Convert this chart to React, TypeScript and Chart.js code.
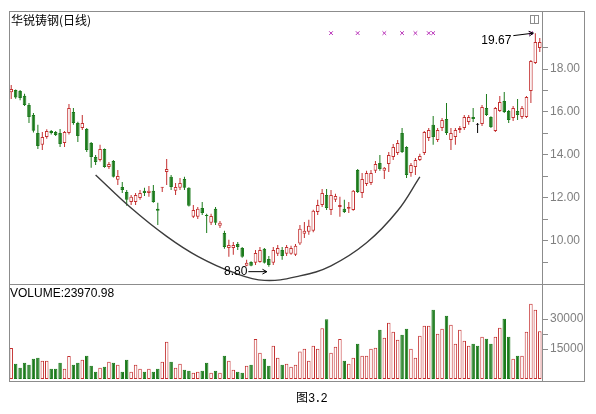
import React, { useEffect, useRef } from 'react';
import { Chart, registerables } from 'chart.js';

Chart.register(...registerables);

// ---- data ----
const opens = [
  16.92, 17.02, 16.98, 16.76, 16.33, 15.86, 15.02, 14.47, 14.84, 15.12,
  15.07, 15.02, 14.56, 15.02, 16.0, 15.49, 15.26, 15.21, 14.56, 13.91,
  13.77, 14.28, 13.44, 13.72, 12.84, 12.51, 12.28, 11.81, 11.81, 12.0,
  12.33, 12.23, 12.33, 11.49, 12.47, 13.21, 12.98, 12.33, 12.47, 12.88,
  12.47, 11.12, 11.12, 11.53, 11.21, 10.84, 11.49, 10.7, 10.37, 9.67,
  9.67, 9.86, 9.67, 8.84, 9.02, 8.98, 9.02, 9.63, 9.16, 8.98,
  9.4, 9.58, 9.4, 9.4, 9.35, 9.88, 10.33, 10.42, 10.47, 11.35,
  11.67, 12.14, 11.44, 11.91, 11.58, 11.49, 11.49, 11.44, 13.3, 12.23,
  12.65, 12.7, 13.26, 13.63, 13.26, 13.58, 13.91, 14.09, 15.02, 14.37,
  13.16, 13.44, 13.77, 14.09, 14.79, 15.4, 14.7, 15.26, 15.67, 14.7,
  14.84, 15.16, 15.26, 15.53, 15.77, 15.4, 15.44, 16.19, 15.77, 15.12,
  16.05, 16.51, 16.05, 15.72, 16.05, 15.77, 15.77, 16.98, 18.28, 18.98,
];
const highs = [
  17.26, 17.05, 17.02, 16.85, 16.42, 15.95, 15.4, 15.07, 15.2, 15.16,
  15.12, 15.21, 15.12, 16.37, 16.19, 15.55, 15.86, 15.26, 14.6, 14.0,
  14.47, 14.3, 13.67, 13.77, 13.3, 12.74, 12.37, 12.14, 12.23, 12.37,
  12.47, 12.56, 12.6, 11.77, 12.51, 13.81, 13.07, 12.7, 12.93, 12.98,
  12.5, 11.67, 11.58, 11.81, 11.26, 11.26, 11.58, 10.93, 10.47, 10.05,
  9.95, 9.95, 9.72, 9.12, 9.05, 9.58, 9.72, 9.67, 9.3, 9.72,
  9.81, 9.72, 9.81, 9.77, 9.86, 10.74, 10.88, 10.98, 11.45, 11.91,
  12.42, 12.42, 12.37, 12.19, 12.05, 11.91, 11.81, 12.37, 13.35, 13.16,
  13.26, 13.3, 13.72, 14.0, 13.44, 14.14, 14.51, 14.7, 15.26, 14.4,
  13.63, 13.86, 14.05, 15.12, 15.26, 15.81, 15.26, 15.72, 16.42, 15.26,
  15.26, 15.35, 15.86, 15.86, 16.19, 15.49, 16.33, 16.84, 15.8, 16.23,
  16.74, 16.93, 16.09, 16.28, 16.6, 16.28, 16.74, 18.42, 19.67, 19.44,
];
const lows = [
  16.6, 16.62, 16.55, 16.28, 15.49, 15.05, 14.28, 14.23, 14.75, 14.95,
  14.88, 14.37, 14.37, 14.95, 15.4, 14.6, 15.16, 14.14, 13.4, 13.53,
  13.7, 13.4, 13.35, 12.95, 12.6, 12.23, 11.63, 11.67, 11.67, 11.91,
  12.09, 12.05, 11.77, 10.74, 12.28, 12.6, 12.37, 12.14, 12.37, 12.37,
  11.6, 11.07, 11.02, 11.21, 10.37, 10.74, 10.74, 10.6, 9.63, 9.26,
  9.35, 9.58, 9.21, 8.82, 8.82, 8.88, 8.98, 8.95, 8.8, 8.88,
  9.3, 9.12, 9.3, 9.35, 9.3, 9.81, 10.14, 10.28, 10.4, 11.21,
  11.58, 11.44, 11.21, 11.81, 11.12, 11.3, 11.3, 11.4, 12.23, 12.0,
  12.56, 12.6, 13.16, 13.26, 12.88, 13.21, 13.77, 14.0, 14.09, 12.93,
  12.98, 13.07, 13.72, 14.0, 14.65, 14.47, 14.6, 15.12, 14.93, 14.23,
  14.47, 15.02, 15.16, 15.4, 15.53, 15.02, 15.35, 15.81, 15.26, 15.07,
  16.0, 15.95, 15.49, 15.58, 15.63, 15.67, 15.72, 16.42, 18.23, 18.79,
];
const closes = [
  17.07, 16.67, 16.65, 16.33, 15.77, 15.13, 14.42, 14.84, 15.12, 15.02,
  14.93, 14.51, 15.07, 16.19, 15.49, 14.88, 15.49, 14.23, 13.91, 13.67,
  14.28, 13.44, 13.58, 12.98, 13.02, 12.37, 11.91, 12.05, 12.14, 12.23,
  12.23, 12.33, 11.81, 11.4, 12.51, 13.35, 12.51, 12.51, 12.7, 12.47,
  11.63, 11.44, 11.49, 11.3, 11.16, 11.16, 10.84, 10.84, 9.72, 9.81,
  9.81, 9.72, 9.26, 8.98, 8.84, 9.44, 9.58, 8.98, 8.88, 9.58,
  9.67, 9.3, 9.72, 9.67, 9.77, 10.56, 10.47, 10.7, 11.4, 11.67,
  12.23, 11.53, 12.14, 12.09, 11.67, 11.35, 11.58, 12.33, 12.28, 12.88,
  13.16, 13.16, 13.58, 13.35, 13.4, 14.0, 14.37, 14.56, 14.14, 13.07,
  13.53, 13.77, 13.95, 15.07, 15.16, 14.84, 15.16, 15.63, 15.02, 15.02,
  15.16, 15.26, 15.77, 15.77, 15.67, 15.4, 16.23, 15.86, 15.3, 16.19,
  16.47, 16.0, 15.63, 16.19, 15.86, 16.19, 16.7, 18.37, 19.26, 19.26,
];
const volumes = [
  15500, 7700, 5700, 8200, 7200, 10200, 10700, 9200, 9200, 5200,
  5200, 8200, 5200, 11500, 7200, 8200, 9700, 11700, 6700, 3700,
  5700, 6200, 8700, 8200, 7200, 3700, 9700, 3700, 7200, 5200,
  3700, 5200, 3700, 5200, 8700, 18700, 8700, 5700, 7700, 4700,
  4200, 3200, 3700, 4200, 8200, 3200, 4200, 3200, 11700, 9200,
  4700, 3700, 3200, 6700, 7200, 20000, 13200, 10200, 6700, 16700,
  10700, 7200, 7700, 6200, 7200, 13800, 15200, 9200, 16700, 15200,
  25500, 30000, 13200, 16200, 20000, 9200, 7700, 10700, 17700, 11700,
  11700, 15200, 15700, 24700, 20700, 28200, 23700, 19700, 22200, 25200,
  15200, 10700, 21700, 26700, 26700, 34700, 22700, 25200, 31700, 27200,
  17700, 24700, 19200, 16700, 17700, 16700, 21200, 20200, 17700, 21200,
  25700, 30200, 21200, 10200, 11700, 11700, 23700, 37700, 34700, 23970.98,
];
const days = opens.map((_, i) => String(i + 1));

const priceTicks = [9, 10, 11, 12, 13, 14, 15, 16, 17, 18, 19];
const priceLabelled = [10, 12, 14, 16, 18];
const volTicks = [15000, 22500, 30000];
const volLabelled = [15000, 30000];

const signalDays = [72, 78, 84, 88, 91, 94, 95, 117];
const signalLevel = 19.67;

// rounded-bottom curve drawn over the chart (day index, price)
const arcDays = [19, 27, 35, 42, 50, 57, 65, 72, 80, 87, 92];
const arcPrices = [13.07, 11.53, 10.21, 9.28, 8.53, 8.16, 8.37, 8.84, 9.91, 11.4, 12.98];

const titleText = '华锐铸钢(日线)';
const volumeLabel = 'VOLUME:23970.98';

// ---- styles ----
const RED = '#c43030';
const GREEN = '#1b7a1b';
const FRAME = '#8c8c8c';
const LABEL = '#7f7f7f';

const candleColor = (i: number) =>
  closes[i] > opens[i] ? RED : closes[i] < opens[i] ? GREEN : '#000000';
const bodyFill = (i: number) => (closes[i] > opens[i] ? '#ffffff' : candleColor(i));
const volColor = (i: number) => (closes[i] > opens[i] ? RED : GREEN);

function arrow(ctx: CanvasRenderingContext2D, x1: number, y1: number, x2: number, y2: number) {
  ctx.beginPath();
  ctx.moveTo(x1, y1);
  ctx.lineTo(x2, y2);
  ctx.stroke();
  const a = Math.atan2(y2 - y1, x2 - x1);
  const h = 5;
  ctx.beginPath();
  ctx.moveTo(x2 - h * Math.cos(a - 0.5), y2 - h * Math.sin(a - 0.5));
  ctx.lineTo(x2, y2);
  ctx.lineTo(x2 - h * Math.cos(a + 0.5), y2 - h * Math.sin(a + 0.5));
  ctx.stroke();
}

const framePlugin = {
  id: 'frame',
  afterDraw(chart: any) {
    const { ctx, chartArea } = chart;
    const ys = chart.scales.y;
    const yv = chart.scales.yVol;
    const xs = chart.scales.x;
    const L = Math.round(chartArea.left) + 0.5;
    const R = Math.round(ys.right) - 0.5;
    const T = Math.round(chartArea.top) + 0.5;
    const B = Math.round(chartArea.bottom) + 0.5;
    const M = Math.round(yv.top) + 0.5;
    const A = Math.round(chartArea.right) + 0.5;
    ctx.save();
    ctx.strokeStyle = FRAME;
    ctx.lineWidth = 1;
    ctx.strokeRect(L, T, R - L, B - T);
    ctx.beginPath();
    ctx.moveTo(L, M);
    ctx.lineTo(R, M);
    ctx.moveTo(A, T);
    ctx.lineTo(A, B);
    ctx.stroke();
    // small panel icon
    ctx.strokeRect(A - 12, T + 4, 8, 8);
    ctx.beginPath();
    ctx.moveTo(A - 8, T + 4);
    ctx.lineTo(A - 8, T + 12);
    ctx.stroke();

    ctx.fillStyle = '#000';
    ctx.textBaseline = 'alphabetic';
    ctx.font = '12px "Noto Sans CJK SC"';
    ctx.textAlign = 'left';
    ctx.fillText(titleText, chartArea.left + 2, chartArea.top + 14);
    ctx.font = '12px "Liberation Sans"';
    ctx.fillText(volumeLabel, chartArea.left + 1, yv.top + 13);

    // highest / lowest markers
    let hi = 0;
    let lo = 0;
    highs.forEach((v, i) => { if (v > highs[hi]) hi = i; });
    lows.forEach((v, i) => { if (v < lows[lo]) lo = i; });
    ctx.strokeStyle = '#000';
    ctx.lineWidth = 1;
    const hx = xs.getPixelForValue(hi) - 2;
    const hy = ys.getPixelForValue(highs[hi]);
    arrow(ctx, hx - 20, hy + 2.5, hx, hy);
    ctx.textAlign = 'right';
    ctx.fillText(highs[hi].toFixed(2), hx - 22, hy + 10.5);
    const lx = xs.getPixelForValue(lo) - 2;
    const ly = ys.getPixelForValue(lows[lo]) + 5;
    arrow(ctx, lx - 18.5, ly, lx, ly);
    ctx.fillText(lows[lo].toFixed(2), lx - 19.5, ly + 3);
    ctx.restore();
  },
};

export default function App() {
  const ref = useRef<HTMLCanvasElement>(null);

  useEffect(() => {
    if (!ref.current) return;
    const fixedWidth = (s: any) => { s.width = 43; };
    const chart = new Chart(ref.current, {
      type: 'bar',
      data: {
        labels: days,
        datasets: [
          {
            type: 'line',
            label: 'signals',
            data: days.map((_, i) => (signalDays.includes(i) ? signalLevel : null)),
            showLine: false,
            pointStyle: 'crossRot',
            pointRadius: 2.6,
            pointBorderWidth: 1,
            pointBorderColor: '#b830b8',
            pointBackgroundColor: '#b830b8',
            yAxisID: 'y',
          } as any,
          {
            type: 'line',
            label: 'curve',
            data: days.map((_, i) => {
              const k = arcDays.indexOf(i);
              return k >= 0 ? arcPrices[k] : null;
            }),
            spanGaps: true,
            yAxisID: 'y',
            borderColor: '#3c3c3c',
            borderWidth: 1.4,
            pointRadius: 0,
            tension: 0.4,
            fill: false,
          } as any,
          {
            label: 'body',
            data: days.map((_, i) => [Math.min(opens[i], closes[i]), Math.max(opens[i], closes[i])]),
            backgroundColor: days.map((_, i) => bodyFill(i)),
            borderColor: days.map((_, i) => candleColor(i)),
            borderWidth: 1,
            borderSkipped: false,
            barThickness: 3.6,
            minBarLength: 1,
            grouped: false,
            inflateAmount: 0,
            yAxisID: 'y',
          } as any,
          {
            label: 'wick',
            data: days.map((_, i) => [lows[i], highs[i]]),
            backgroundColor: days.map((_, i) => candleColor(i)),
            borderWidth: 0,
            barThickness: 1,
            grouped: false,
            inflateAmount: 0,
            yAxisID: 'y',
          } as any,
          {
            label: 'volume',
            data: volumes,
            backgroundColor: days.map((_, i) => (closes[i] > opens[i] ? '#ffffff' : volColor(i))),
            borderColor: days.map((_, i) => volColor(i)),
            borderWidth: 1,
            borderSkipped: false,
            barThickness: 3.5,
            grouped: false,
            inflateAmount: 0,
            yAxisID: 'yVol',
          } as any,
        ],
      },
      options: {
        animation: false,
        responsive: false,
        events: [],
        layout: { padding: { left: 9, top: 11, right: 11, bottom: 9 } },
        plugins: { legend: { display: false }, tooltip: { enabled: false }, title: { display: false } },
        scales: {
          x: { type: 'category', display: false, offset: true },
          y: {
            type: 'linear',
            position: 'right',
            stack: 'panels',
            stackWeight: 273,
            min: 8,
            max: 20.7,
            afterBuildTicks: (s: any) => { s.ticks = priceTicks.map((v) => ({ value: v })); },
            afterFit: fixedWidth,
            border: { display: false },
            grid: { drawOnChartArea: false, drawTicks: true, tickLength: 6, color: FRAME, tickColor: FRAME },
            ticks: {
              autoSkip: false,
              padding: 2,
              color: LABEL,
              font: { family: 'Liberation Sans', size: 12 },
              callback: (v: any) => (priceLabelled.includes(Number(v)) ? Number(v).toFixed(2) : ''),
            },
          },
          yVol: {
            type: 'linear',
            position: 'right',
            stack: 'panels',
            stackWeight: 97,
            min: -850,
            max: 47650,
            afterBuildTicks: (s: any) => { s.ticks = volTicks.map((v) => ({ value: v })); },
            afterFit: fixedWidth,
            border: { display: false },
            grid: { drawOnChartArea: false, drawTicks: true, tickLength: 6, color: FRAME, tickColor: FRAME },
            ticks: {
              autoSkip: false,
              padding: 2,
              color: LABEL,
              font: { family: 'Liberation Sans', size: 12 },
              callback: (v: any) => (volLabelled.includes(Number(v)) ? String(v) : ''),
            },
          },
        } as any,
      },
      plugins: [framePlugin],
    });
    return () => chart.destroy();
  }, []);

  return (
    <div style={{ position: 'fixed', left: 0, top: 0, width: 596, height: 414, background: '#fff' }}>
      <canvas ref={ref} width={596} height={390} style={{ display: 'block', width: 596, height: 390 }} />
      <div
        style={{
          position: 'absolute',
          left: 296,
          top: 390,
          fontSize: 12,
          lineHeight: '14px',
          fontFamily: '"Noto Sans CJK SC", sans-serif',
          color: '#000',
          whiteSpace: 'nowrap',
        }}
      >
        图<span style={{ fontFamily: '"Liberation Mono", monospace', letterSpacing: '-1px' }}>3.2</span>
      </div>
    </div>
  );
}
